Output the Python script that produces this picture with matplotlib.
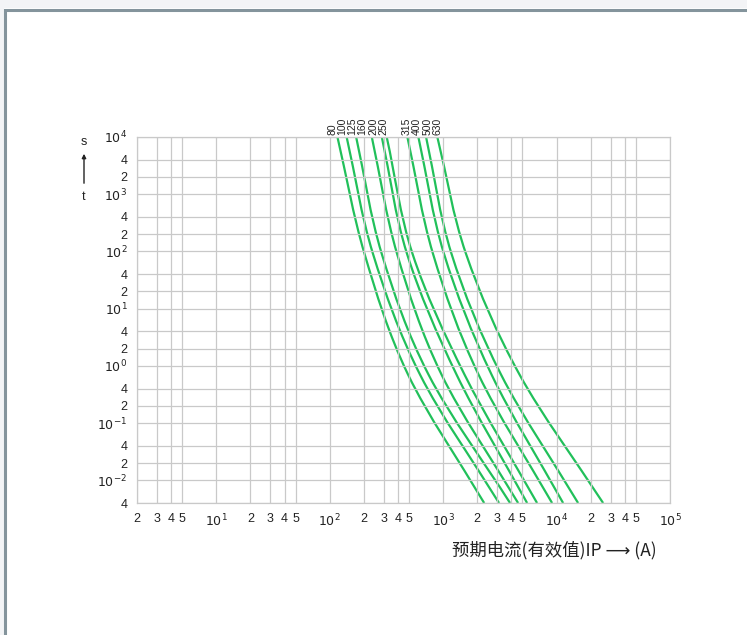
import numpy as np
import matplotlib.pyplot as plt
from matplotlib.patches import Rectangle, PathPatch
from matplotlib.path import Path

plt.rcParams['font.family'] = ['Liberation Sans', 'DejaVu Sans']

# fuse ratings (A)
RATINGS = ["80", "100", "125", "160", "200", "250", "315", "400", "500", "630"]

# pre-arcing time levels (s) at which the curves were read
TIMES = [10000, 90, 0.7, 0.004]

# prospective current (A) at the TIMES above
CURRENT_80 = [117, 203, 491, 2300]
CURRENT_100 = [141, 241, 626, 3110]
CURRENT_125 = [171, 288, 744, 3890]
CURRENT_160 = [235, 393, 969, 4580]
CURRENT_200 = [288, 481, 1314, 5500]
CURRENT_250 = [318, 538, 1545, 6730]
CURRENT_315 = [484, 815, 2053, 9130]
CURRENT_400 = [605, 1019, 2674, 11420]
CURRENT_500 = [707, 1187, 3243, 15480]
CURRENT_630 = [889, 1593, 4721, 25720]

CURVES = [CURRENT_80, CURRENT_100, CURRENT_125, CURRENT_160, CURRENT_200,
          CURRENT_250, CURRENT_315, CURRENT_400, CURRENT_500, CURRENT_630]

# where the rating labels sit above the plot (A)
LABEL_X = [105, 128, 157, 193, 241, 295, 481, 589, 722, 884]

X_TICKS = [2, 3, 4, 5, 10, 20, 30, 40, 50, 100, 200, 300, 400, 500,
           1000, 2000, 3000, 4000, 5000, 10000, 20000, 30000, 40000, 50000, 100000]
X_LABELS = ["2", "3", "4", "5", "$10^{1}$", "2", "3", "4", "5", "$10^{2}$",
            "2", "3", "4", "5", "$10^{3}$", "2", "3", "4", "5", "$10^{4}$",
            "2", "3", "4", "5", "$10^{5}$"]

Y_TICKS = [0.004, 0.01, 0.02, 0.04, 0.1, 0.2, 0.4, 1, 2, 4, 10, 20, 40,
           100, 200, 400, 1000, 2000, 4000, 10000]
Y_LABELS = ["4", "$10^{-2}$", "2", "4", "$10^{-1}$", "2", "4", "$10^{0}$",
            "2", "4", "$10^{1}$", "2", "4", "$10^{2}$", "2", "4", "$10^{3}$",
            "2", "4", "$10^{4}$"]

GREEN = "#21c05a"
GRID = "#c9c9c9"
TEXT = "#222222"


def smooth_curve(xs, ys):
    # Catmull-Rom through the read points, done in log-log space
    pts = np.column_stack([np.log10(xs), np.log10(ys)])
    ext = np.vstack([2 * pts[0] - pts[1], pts, 2 * pts[-1] - pts[-2]])
    verts = [pts[0]]
    codes = [Path.MOVETO]
    for i in range(1, len(ext) - 2):
        p0, p1, p2, p3 = ext[i - 1], ext[i], ext[i + 1], ext[i + 2]
        verts += [p1 + (p2 - p0) / 6, p2 - (p3 - p1) / 6, p2]
        codes += [Path.CURVE4] * 3
    return Path(10 ** np.array(verts), codes)


W, H = 747, 635
fig = plt.figure(figsize=(W / 100, H / 100), dpi=100)
fig.patch.set_facecolor("white")

# page frame like the scanned datasheet
fig.patches.append(Rectangle((0, 1 - 8 / H), 1, 8 / H, transform=fig.transFigure,
                             facecolor="#f3f4f6", edgecolor="none", zorder=0))
fig.patches.append(Rectangle((0, 0), 4 / W, 1, transform=fig.transFigure,
                             facecolor="#f3f4f6", edgecolor="none", zorder=0))
fig.patches.append(Rectangle((5 / W, -0.1), 1.2, 1.1 - 10 / H,
                             transform=fig.transFigure, facecolor="none",
                             edgecolor="#84949c", linewidth=2.2, zorder=1))

ax = fig.add_axes([137 / W, 1 - 503 / H, 533 / W, 366 / H])
ax.set_xscale("log")
ax.set_yscale("log")
ax.set_xlim(2, 1e5)
ax.set_ylim(0.004, 1e4)

ax.set_xticks(X_TICKS)
ax.set_xticklabels(X_LABELS)
ax.set_yticks(Y_TICKS)
ax.set_yticklabels(Y_LABELS)
ax.minorticks_off()
ax.tick_params(length=0, labelsize=9, labelcolor=TEXT, pad=7)
ax.grid(True, color=GRID, linewidth=0.9)
for sp in ax.spines.values():
    sp.set_color(GRID)
    sp.set_linewidth(0.9)

for cur in CURVES:
    ax.add_patch(PathPatch(smooth_curve(cur, TIMES), facecolor="none",
                           edgecolor=GREEN, linewidth=1.6))

for name, lx in zip(RATINGS, LABEL_X):
    ax.annotate(name, xy=(lx, 1e4), xytext=(0, 1.5), textcoords="offset points",
                rotation=90, ha="center", va="bottom", fontsize=7.5,
                color=TEXT, annotation_clip=False)

# y axis caption: s ↑ t
fig.text(84 / W, 1 - 142 / H, "s", ha="center", va="center", fontsize=9, color=TEXT)
fig.text(84 / W, 1 - 197 / H, "t", ha="center", va="center", fontsize=9, color=TEXT)
ax.annotate("", xy=(84 / W, 1 - 151 / H), xytext=(84 / W, 1 - 186 / H),
            xycoords="figure fraction", textcoords="figure fraction",
            arrowprops=dict(arrowstyle="-|>", color=TEXT, lw=1.0,
                            mutation_scale=6))

fig.text(452 / W, 1 - 550 / H, "预期电流(有效值)IP ⟶ (A)", ha="left", va="center",
         fontsize=12.5, color=TEXT, family=["Noto Sans CJK SC", "DejaVu Sans"])

fig.savefig("out.png", dpi=100)
